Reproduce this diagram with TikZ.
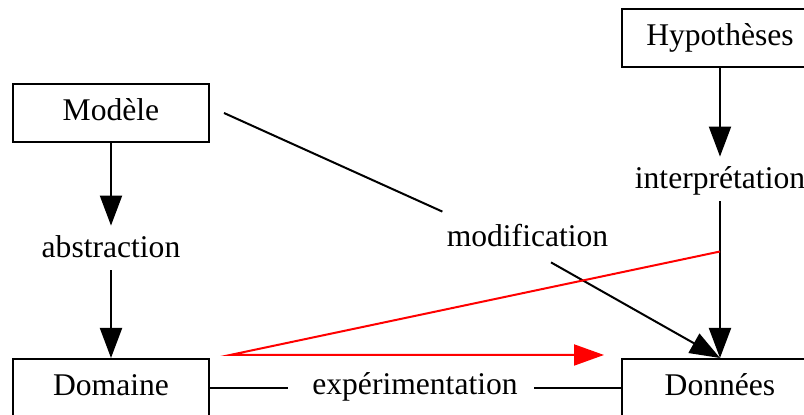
\documentclass[tikz,border=0pt]{standalone}
\usepackage{fontspec}
\setmainfont{Liberation Serif}
\usepackage{xcolor}
\usepackage{tikz}
\usetikzlibrary{calc,arrows.meta}
\definecolor{ink}{HTML}{000000}
\definecolor{hot}{HTML}{FF0000}
\tikzset{
  boite/.style={draw=ink, line width=1pt, minimum width=98pt, minimum height=29pt,
    inner sep=0pt, text height=11pt, text depth=3.5pt, font=\fontsize{15.8}{19}\selectfont},
  lab/.style={inner xsep=2pt, inner ysep=5pt, text height=11pt, text depth=1pt,
    font=\fontsize{15.8}{19}\selectfont},
  trait/.style={draw=ink, line width=1pt, line cap=butt},
  fleche/.style={trait, -{Triangle[length=15pt,width=11pt]}},
  rouge/.style={draw=hot, line width=1pt, line join=miter, -{Triangle[length=15pt,width=10.5pt]}},
}

\begin{document}
\begin{tikzpicture}[x=0.5pt,y=-0.5pt]
  \useasboundingbox (0,0) rectangle (804,415);
  % boites
  \node[boite] (modele) at (111,113) {Modèle};
  \node[boite] (domaine) at (111,388) {Domaine};
  \node[boite] (hypo) at (720,38.5) {Hypothèses};
  \node[boite] (donnees) at (720,388) {Données};
  % etiquettes
  \node[lab] (abstr) at (111,248) {abstraction};
  \node[lab] (interp) at (720,179) {interprétation};
  \node[lab] (modif) at (527.5,237) {modification};
  \node[lab,inner xsep=12pt] (exper) at (415,385) {expérimentation};
  % liens
  \draw[fleche] (modele) -- (abstr);
  \draw[fleche] (abstr) -- (domaine);
  \draw[fleche] (hypo) -- (interp);
  \draw[fleche] (interp) -- (donnees);
  \draw[trait] ([xshift=7pt]modele.east) -- ([yshift=1.5pt]modif.north west);
  \draw[fleche] ([xshift=11.75pt,yshift=-1.5pt]modif.south) -- (donnees.north);
  \draw[trait] (domaine.east) -- (domaine.east -| exper.west);
  \draw[trait] ([xshift=-4pt]domaine.east -| exper.east) -- (domaine.east -| donnees.west);
  % trajet rouge
  \coordinate (r1) at ($(interp.south)!0.32!(donnees.north)$);
  \coordinate (r2) at ([xshift=10pt,yshift=1.5pt]domaine.north east);
  \coordinate (r3) at ([xshift=-8.5pt,yshift=1.5pt]donnees.north west);
  \draw[rouge] (r1) -- (r2) -- (r3);
\end{tikzpicture}
\end{document}
